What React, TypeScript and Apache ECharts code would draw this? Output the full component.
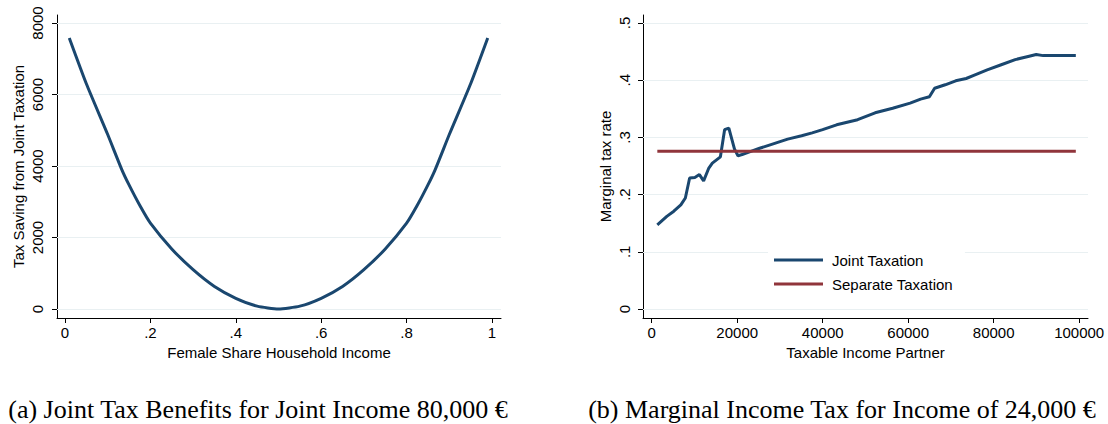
import React, { useEffect, useRef } from "react";
import * as echarts from "echarts";

// Panel (a): tax saving from joint taxation by female share of household income
const femaleShare = [0.01, 0.05, 0.1, 0.133, 0.15, 0.175, 0.2, 0.25, 0.3, 0.35, 0.4, 0.45, 0.5, 0.55, 0.6, 0.65, 0.7, 0.75, 0.8, 0.825, 0.85, 0.867, 0.9, 0.95, 0.99];
const taxSaving = [7580, 6300, 4880, 3900, 3470, 2900, 2400, 1680, 1100, 630, 300, 80, 0, 80, 300, 630, 1100, 1680, 2400, 2900, 3470, 3900, 4880, 6300, 7580];
const shareTicks = [0, 0.2, 0.4, 0.6, 0.8, 1];
const savingTicks = [0, 2000, 4000, 6000, 8000];

// Panel (b): marginal tax rate by partner's taxable income
const partnerIncome = [1310, 3530, 5170, 6810, 7870, 8870, 10090, 11160, 12140, 13360, 14180, 16070, 17050, 18040, 19350, 20170, 21150, 23190, 25240, 27700, 31800, 35070, 37530, 39980, 43260, 48170, 52260, 56360, 60450, 62900, 64960, 66180, 68650, 71110, 73560, 75200, 78480, 81760, 85030, 88300, 89940, 91580, 99210];
const jointRate = [0.147, 0.162, 0.171, 0.182, 0.194, 0.229, 0.230, 0.235, 0.224, 0.2465, 0.255, 0.266, 0.3135, 0.3164, 0.280, 0.268, 0.270, 0.2757, 0.281, 0.287, 0.297, 0.303, 0.308, 0.3135, 0.322, 0.331, 0.343, 0.351, 0.360, 0.367, 0.371, 0.386, 0.392, 0.399, 0.403, 0.408, 0.418, 0.427, 0.436, 0.442, 0.445, 0.443, 0.443];
const separateIncome = [1310, 99210];
const separateRate = [0.2756, 0.2756];
const incomeTicks = [0, 20000, 40000, 60000, 80000, 100000];
const rateTicks = [0, 0.1, 0.2, 0.3, 0.4, 0.5];

const captionA = "(a) Joint Tax Benefits for Joint Income 80,000 €";
const captionB = "(b) Marginal Income Tax for Income of 24,000 €";

const NAVY = "#1a476f";
const MAROON = "#90353b";
const GRID = "#e9f0f2";
const SANS = "'Liberation Sans', Arial, sans-serif";
const SERIF = "'Liberation Serif', 'DejaVu Serif', serif";
const FS = 15;

const dotFmt = (v: number) => (v === 0 ? "0" : v === 1 ? "1" : String(v).replace(/^0/, ""));
const plainFmt = (v: number) => String(v);

function xAxisOf(gridIndex: number, min: number, max: number, ticks: number[], name: string, fmt: (v: number) => string) {
  return {
    type: "value",
    gridIndex,
    min,
    max,
    name,
    nameLocation: "middle",
    nameGap: 26,
    nameTextStyle: { color: "#000", fontSize: FS, fontFamily: SANS },
    axisLine: { show: true, onZero: false, lineStyle: { color: "#000", width: 1 } },
    axisTick: { show: true, length: 5, customValues: ticks, lineStyle: { color: "#000", width: 1 } },
    axisLabel: { customValues: ticks, formatter: fmt, margin: 7, color: "#000", fontSize: FS, fontFamily: SANS },
    splitLine: { show: false },
  };
}

function yAxisOf(gridIndex: number, min: number, max: number, ticks: number[], name: string, nameGap: number, margin: number, fmt: (v: number) => string) {
  return {
    type: "value",
    gridIndex,
    min,
    max,
    name,
    nameLocation: "middle",
    nameGap,
    nameRotate: 90,
    nameTextStyle: { color: "#000", fontSize: FS, fontFamily: SANS },
    axisLine: { show: true, onZero: false, lineStyle: { color: "#000", width: 1 } },
    axisTick: { show: true, length: 5, customValues: ticks, lineStyle: { color: "#000", width: 1 } },
    axisLabel: { customValues: ticks, formatter: fmt, rotate: 90, margin, color: "#000", fontSize: FS, fontFamily: SANS },
    splitLine: { show: false },
  };
}

const gridLines = (ticks: number[]) => ({
  silent: true,
  symbol: ["none", "none"],
  z: 1,
  label: { show: false },
  lineStyle: { color: GRID, width: 1, type: "solid" },
  emphasis: { disabled: true },
  data: ticks.map((v) => ({ yAxis: v })),
});

export default function App() {
  const ref = useRef<HTMLDivElement>(null);
  useEffect(() => {
    const chart = echarts.init(ref.current!, null, { renderer: "svg" });
    const option: any = {
      animation: false,
      backgroundColor: "#fff",
      grid: [
        { left: 57, right: 607, top: 15, bottom: 106 },
        { left: 643, right: 20, top: 15, bottom: 106 },
      ],
      xAxis: [
        xAxisOf(0, -0.01874, 1.02108, shareTicks, "Female Share Household Income", dotFmt),
        xAxisOf(1, -2040, 102060, incomeTicks, "Taxable Income Partner", plainFmt),
      ],
      yAxis: [
        yAxisOf(0, -251.7, 8223.8, savingTicks, "Tax Saving from Joint Taxation", 31.5, 12, plainFmt),
        yAxisOf(1, -0.01573, 0.514, rateTicks, "Marginal tax rate", 30, 11, dotFmt),
      ],
      legend: {
        left: 768,
        top: 249,
        orient: "vertical",
        backgroundColor: "#fff",
        padding: [3, 12, 3, 6],
        itemGap: 8,
        itemWidth: 49,
        itemHeight: 3,
        textStyle: { color: "#000", fontSize: FS, fontFamily: SANS, lineHeight: 16, padding: [0, 0, 0, 4] },
        data: [
          { name: "Joint Taxation", icon: "rect" },
          { name: "Separate Taxation", icon: "rect" },
        ],
      },
      series: [
        {
          name: "Tax Saving",
          type: "line",
          xAxisIndex: 0,
          yAxisIndex: 0,
          data: femaleShare.map((x, i) => [x, taxSaving[i]]),
          showSymbol: false,
          smooth: 0.2,
          color: NAVY,
          lineStyle: { color: NAVY, width: 3 },
          z: 3,
          markLine: gridLines(savingTicks),
        },
        {
          name: "Joint Taxation",
          type: "line",
          xAxisIndex: 1,
          yAxisIndex: 1,
          data: partnerIncome.map((x, i) => [x, jointRate[i]]),
          showSymbol: false,
          color: NAVY,
          lineStyle: { color: NAVY, width: 3 },
          z: 3,
          markLine: gridLines(rateTicks),
        },
        {
          name: "Separate Taxation",
          type: "line",
          xAxisIndex: 1,
          yAxisIndex: 1,
          data: separateIncome.map((x, i) => [x, separateRate[i]]),
          showSymbol: false,
          color: MAROON,
          lineStyle: { color: MAROON, width: 3 },
          z: 3,
        },
      ],
      graphic: [
        { type: "text", x: 258, y: 409, style: { text: captionA, fill: "#000", fontSize: 26, fontFamily: SERIF, align: "center", verticalAlign: "middle" } },
        { type: "text", x: 842, y: 409, style: { text: captionB, fill: "#000", fontSize: 26, fontFamily: SERIF, align: "center", verticalAlign: "middle" } },
      ],
    };
    chart.setOption(option);
    return () => chart.dispose();
  }, []);
  return <div ref={ref} style={{ position: "fixed", left: 0, top: 0, width: 1108, height: 424, background: "#fff" }} />;
}
